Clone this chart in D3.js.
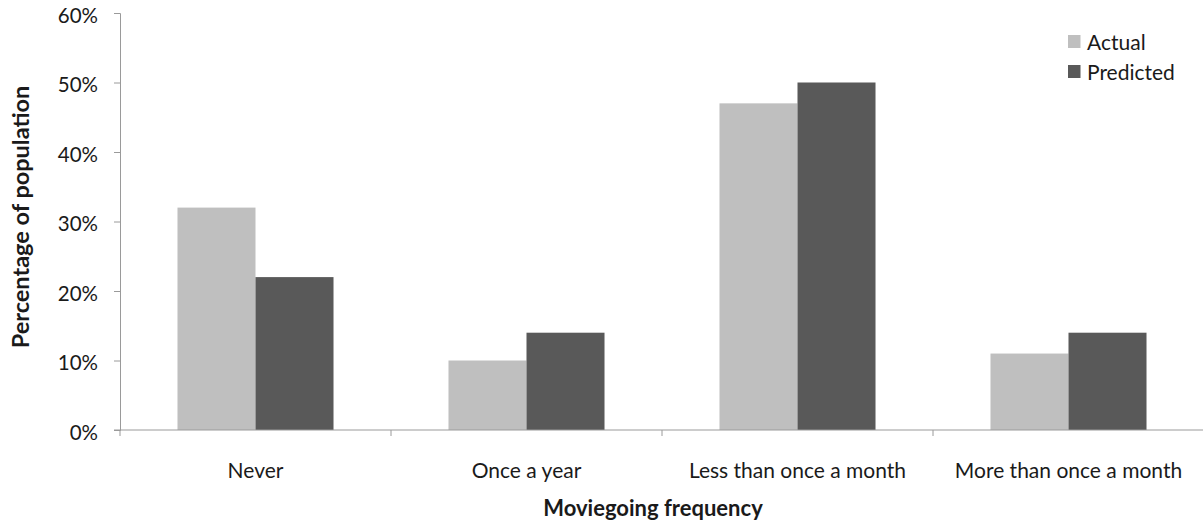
<!DOCTYPE html>
<html><head><meta charset="utf-8">
<script src="https://cdn.jsdelivr.net/npm/d3@7"></script>
<style>body{margin:0;background:#fff}svg{display:block}text{font-family:Lato,"Open Sans",sans-serif;fill:#1a1a1a}</style>
</head><body><svg id="c" width="1203" height="525"></svg>
<script>
const categories = ["Never", "Once a year", "Less than once a month", "More than once a month"];
const seriesNames = ["Actual", "Predicted"];
const actual = [32, 10, 47, 11];
const predicted = [22, 14, 50, 14];
const yTicks = [0, 10, 20, 30, 40, 50, 60];
const colors = ["#bfbfbf", "#595959"];

(function () {
const svg = d3.select("#c");
const mLeft = 120, mRight = 1204, mTop = 13, mBottom = 430;
const FONT = "Lato, 'Open Sans', sans-serif";
const x = d3.scaleBand().domain(categories).range([mLeft, mRight]).paddingInner(0).paddingOuter(0);
const x1 = d3.scaleBand().domain(seriesNames).range([0, x.bandwidth()]).paddingInner(0).paddingOuter(0.737);
const y = d3.scaleLinear().domain([0, 60]).range([mBottom, mTop]);
const data = categories.map((c, i) => ({cat: c, vals: [actual[i], predicted[i]]}));

const g = svg.append("g");
data.forEach(d => {
  d.vals.forEach((v, j) => {
    g.append("rect")
      .attr("x", x(d.cat) + x1(seriesNames[j]))
      .attr("y", y(v))
      .attr("width", x1.bandwidth())
      .attr("height", y(0) - y(v))
      .attr("fill", colors[j]);
  });
});

const axisColor = "#9a9a9a";
const ya = svg.append("g").attr("transform", `translate(${mLeft},0)`)
  .call(d3.axisLeft(y).tickValues(yTicks).tickFormat(d => d + "%").tickSize(6).tickPadding(16));
ya.select(".domain").attr("stroke", axisColor);
ya.selectAll(".tick line").attr("stroke", axisColor);
ya.selectAll(".tick text").attr("font-size", 20.5).attr("dy", "0.45em").attr("fill", "#1a1a1a").style("font-family", FONT);

const xa = svg.append("g").attr("transform", `translate(0,${mBottom})`)
  .call(d3.axisBottom(x).tickSize(0).tickPadding(33));
xa.select(".domain").attr("stroke", axisColor).attr("d", `M${mLeft - 6},0H${mRight}`);
xa.selectAll(".tick text").attr("font-size", 21).attr("fill", "#1a1a1a").style("font-family", FONT);
const bounds = categories.map(c => x(c));
svg.append("g").selectAll("line").data(bounds).join("line")
  .attr("x1", d => d).attr("x2", d => d)
  .attr("y1", mBottom).attr("y2", mBottom + 6)
  .attr("stroke", axisColor);

svg.append("text").attr("x", 653).attr("y", 516).attr("text-anchor", "middle")
  .attr("font-size", 22).attr("font-weight", "bold").text("Moviegoing frequency");
svg.append("text").attr("transform", `translate(29,217) rotate(-90)`)
  .attr("text-anchor", "middle").attr("font-size", 23.5).attr("font-weight", "bold").text("Percentage of population");

const lg = svg.append("g").attr("transform", "translate(1068,35)");
seriesNames.forEach((s, i) => {
  lg.append("rect").attr("x", 0).attr("y", i * 30).attr("width", 12.5).attr("height", 13).attr("fill", colors[i]);
  lg.append("text").attr("x", 19).attr("y", i * 30 + 15).attr("font-size", 21).text(s);
});
})();
</script></body></html>
